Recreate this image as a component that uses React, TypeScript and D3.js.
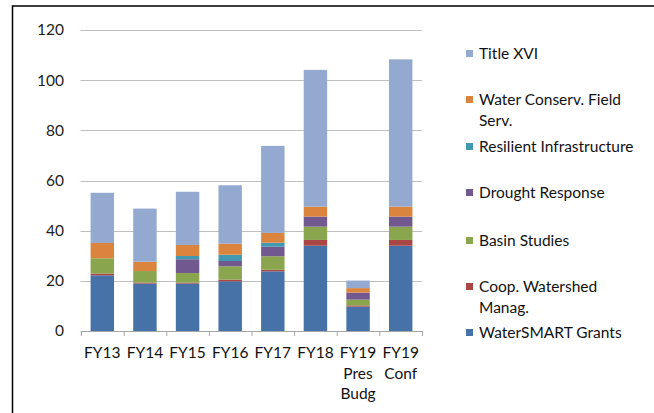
import React from "react";
import * as d3 from "d3";

const categories = ["FY13", "FY14", "FY15", "FY16", "FY17", "FY18", "FY19 Pres Budg", "FY19 Conf"];
const seriesNames = [
  "WaterSMART Grants",
  "Coop. Watershed Manag.",
  "Basin Studies",
  "Drought Response",
  "Resilient Infrastructure",
  "Water Conserv. Field Serv.",
  "Title XVI",
];
const waterSmart = [22.2, 18.9, 18.9, 19.8, 23.8, 34.0, 9.7, 34.0];
const coopWatershed = [0.7, 0.4, 0.4, 0.7, 0.6, 2.3, 0.5, 2.3];
const basinStudies = [6.1, 4.6, 3.8, 5.3, 5.4, 5.3, 2.3, 5.3];
const droughtResponse = [0, 0, 5.5, 2.1, 3.8, 4.0, 2.8, 4.0];
const resilientInfra = [0, 0, 1.3, 2.5, 1.6, 0, 0, 0];
const waterConserv = [6.1, 3.7, 4.4, 4.4, 3.9, 4.0, 1.8, 4.0];
const titleXVI = [20.0, 21.2, 21.2, 23.3, 34.7, 54.5, 3.0, 58.7];
const yTicks = [0, 20, 40, 60, 80, 100, 120];
const colors = ["#4672A8", "#AA4643", "#89A54E", "#71588F", "#4198AF", "#DB843D", "#93A9CF"];
const legendLabels = [
  ["Title XVI"],
  ["Water Conserv. Field", "Serv."],
  ["Resilient Infrastructure"],
  ["Drought Response"],
  ["Basin Studies"],
  ["Coop. Watershed", "Manag."],
  ["WaterSMART Grants"],
];

export default function App() {
  const W = 654, H = 413;
  const font = "Lato, 'Open Sans', sans-serif";
  const left = 81, right = 422, top = 30, bottom = 331;
  const x = d3.scaleBand().domain(categories).range([left, right]).paddingInner(0.45).paddingOuter(0.225);
  const xStep = d3.scaleBand().domain(categories).range([left, right]);
  const y = d3.scaleLinear().domain([0, 120]).range([bottom, top]);
  const table = categories.map((c, i) => {
    const row: any = { cat: c };
    const vals = [waterSmart, coopWatershed, basinStudies, droughtResponse, resilientInfra, waterConserv, titleXVI];
    seriesNames.forEach((s, k) => (row[s] = vals[k][i]));
    return row;
  });
  const stacked = d3.stack().keys(seriesNames)(table as any);
  const legendY = [54, 100, 147, 193, 241, 287, 333];

  return (
    <svg width={W} height={H} style={{ position: "absolute", left: 0, top: 0 }} fontFamily={font}>
      <rect x={0} y={0} width={W} height={H} fill="#fff" />
      <rect x={12.5} y={6} width={W + 10} height={H + 10} fill="none" stroke="#000" strokeWidth={1.5} />
      {yTicks.map((t) => (
        <g key={t}>
          <line x1={left - 0.5} x2={right} y1={Math.round(y(t)) + 0.5} y2={Math.round(y(t)) + 0.5} stroke={t === 0 ? "#a6a6a6" : "#bfbfbf"} strokeWidth={1} />
          <text x={64} y={y(t)} dy="0.35em" textAnchor="end" fontSize={15.5} fill="#222">{t}</text>
        </g>
      ))}
      <line x1={left + 0.5} x2={left + 0.5} y1={bottom} y2={bottom + 5} stroke="#a6a6a6" />
      {categories.map((c) => (
        <line key={c} x1={xStep(c)! + xStep.bandwidth() + 0.5} x2={xStep(c)! + xStep.bandwidth() + 0.5} y1={bottom} y2={bottom + 5} stroke="#a6a6a6" />
      ))}
      {stacked.map((s, k) => (
        <g key={s.key} fill={colors[k]}>
          {s.map((d, i) => (
            d[1] - d[0] > 0 ? (
              <rect key={i} x={x(categories[i])} width={x.bandwidth()} y={y(d[1])} height={y(d[0]) - y(d[1])} />
            ) : null
          ))}
        </g>
      ))}
      {categories.map((c) => (
        <text key={c} x={x(c)! + x.bandwidth() / 2} y={358} textAnchor="middle" fontSize={15.5} fill="#111">
          {c.split(" ").map((w, j) => (
            <tspan key={j} x={x(c)! + x.bandwidth() / 2} dy={j === 0 ? 0 : 20.5}>{w}</tspan>
          ))}
        </text>
      ))}
      {legendLabels.map((lines, k) => {
        const ci = seriesNames.length - 1 - k;
        return (
          <g key={k}>
            <rect x={466} y={legendY[k] - 4} width={7} height={7} fill={colors[ci]} />
            <text x={479} y={legendY[k]} fontSize={15.5} fill="#111">
              {lines.map((l, j) => (
                <tspan key={j} x={479} dy={j === 0 ? "0.35em" : 20.5}>{l}</tspan>
              ))}
            </text>
          </g>
        );
      })}
    </svg>
  );
}
